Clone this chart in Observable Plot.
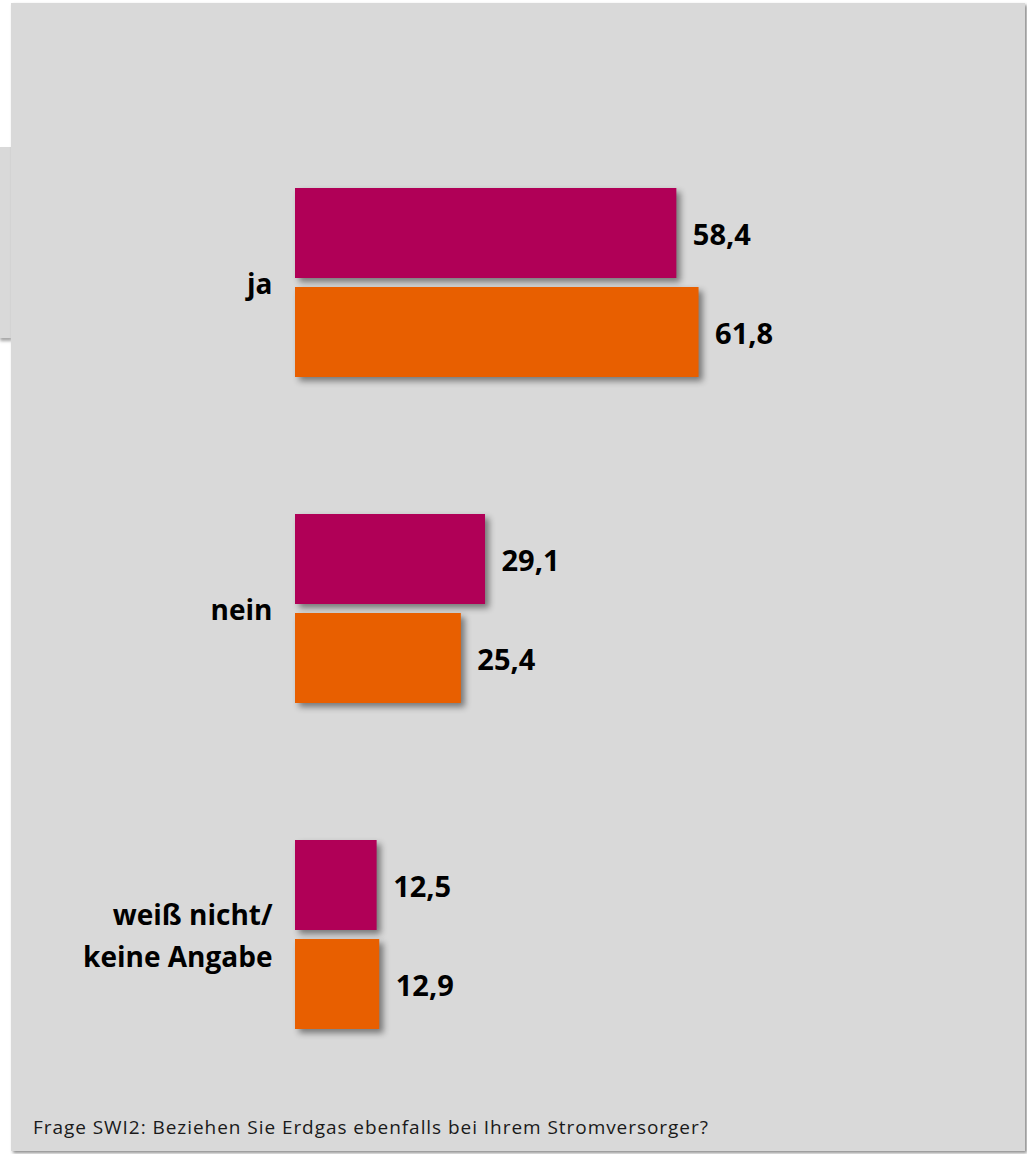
<!DOCTYPE html>
<html>
<head>
<meta charset="utf-8">
<script src="https://cdn.jsdelivr.net/npm/d3@7"></script>
<script src="https://cdn.jsdelivr.net/npm/@observablehq/plot@0.6"></script>
<style>
  html, body { margin: 0; padding: 0; background: #ffffff; }
  #wrap { position: relative; width: 1027px; height: 1154px; overflow: hidden; font-family: "Open Sans", sans-serif; }
  #panel { position: absolute; left: 11px; top: 3px; width: 1014px; height: 1148px; background: #d9d9d9;
           box-shadow: 2px 2px 3px rgba(0,0,0,0.45); }
  #tab { position: absolute; left: 0; top: 147px; width: 12px; height: 191px; background: #d9d9d9;
         box-shadow: 0 3px 3px rgba(0,0,0,0.35); }
  #tabcover { position: absolute; left: 11px; top: 140px; width: 4px; height: 206px; background: #d9d9d9; }
  #chart { position: absolute; left: 0; top: 0; }
  #caption { position: absolute; left: 33px; top: 1117px; font-size: 19px; line-height: 20px; color: #1a1a1a;
             letter-spacing: 0.95px; font-family: "Open Sans", sans-serif; white-space: nowrap; }
  g[aria-label="bar"] rect { filter: drop-shadow(4px 4px 3px rgba(0,0,0,0.45)); }
</style>
</head>
<body>
<div id="wrap">
  <div id="tab"></div>
  <div id="panel"></div>
  <div id="tabcover"></div>
  <div id="chart"></div>
  <div id="caption"></div>
</div>
<script>
// Data
const categories = ["ja", "nein", "weiß nicht/keine Angabe"];
const categoryLabels = ["ja", "nein", "weiß nicht/\nkeine Angabe"];
const seriesNames = ["Serie 1", "Serie 2"];
const series1Values = [58.4, 29.1, 12.5];
const series2Values = [61.8, 25.4, 12.9];
const seriesColors = ["#b00057", "#e85f00"];
const captionText = "Frage SWI2: Beziehen Sie Erdgas ebenfalls bei Ihrem Stromversorger?";

const data = [];
categories.forEach((c, i) => {
  data.push({cat: c, series: seriesNames[0], value: series1Values[i]});
  data.push({cat: c, series: seriesNames[1], value: series2Values[i]});
});
const labelOf = c => categoryLabels[categories.indexOf(c)];
const fmt = v => v.toFixed(1).replace(".", ",");

const chart = Plot.plot({
  width: 1027,
  height: 1060,
  marginTop: 187,
  marginBottom: 30,
  marginLeft: 295,
  marginRight: 79,
  style: {background: "transparent", fontFamily: "'Open Sans', sans-serif", color: "#000"},
  x: {domain: [0, 100], axis: null},
  y: {domain: seriesNames, paddingInner: 0.09, paddingOuter: 0, axis: null},
  fy: {domain: categories, paddingInner: 0.418, paddingOuter: 0, label: null},
  color: {domain: seriesNames, range: seriesColors},
  marks: [
    Plot.axisFy({anchor: "left", tickSize: 0, tickPadding: 23, label: null, dy: -3,
                 fontSize: 28, fontWeight: "bold", lineHeight: 1.5, fill: "#000",
                 tickFormat: labelOf}),
    Plot.barX(data, {x: "value", y: "series", fy: "cat", fill: "series"}),
    Plot.text(data, {x: "value", y: "series", fy: "cat", text: d => fmt(d.value),
                     textAnchor: "start", dx: 16, dy: 2, fontSize: 29, fontWeight: "bold", fill: "#000"})
  ]
});
document.getElementById("chart").appendChild(chart);
document.getElementById("caption").textContent = captionText;
</script>
</body>
</html>
